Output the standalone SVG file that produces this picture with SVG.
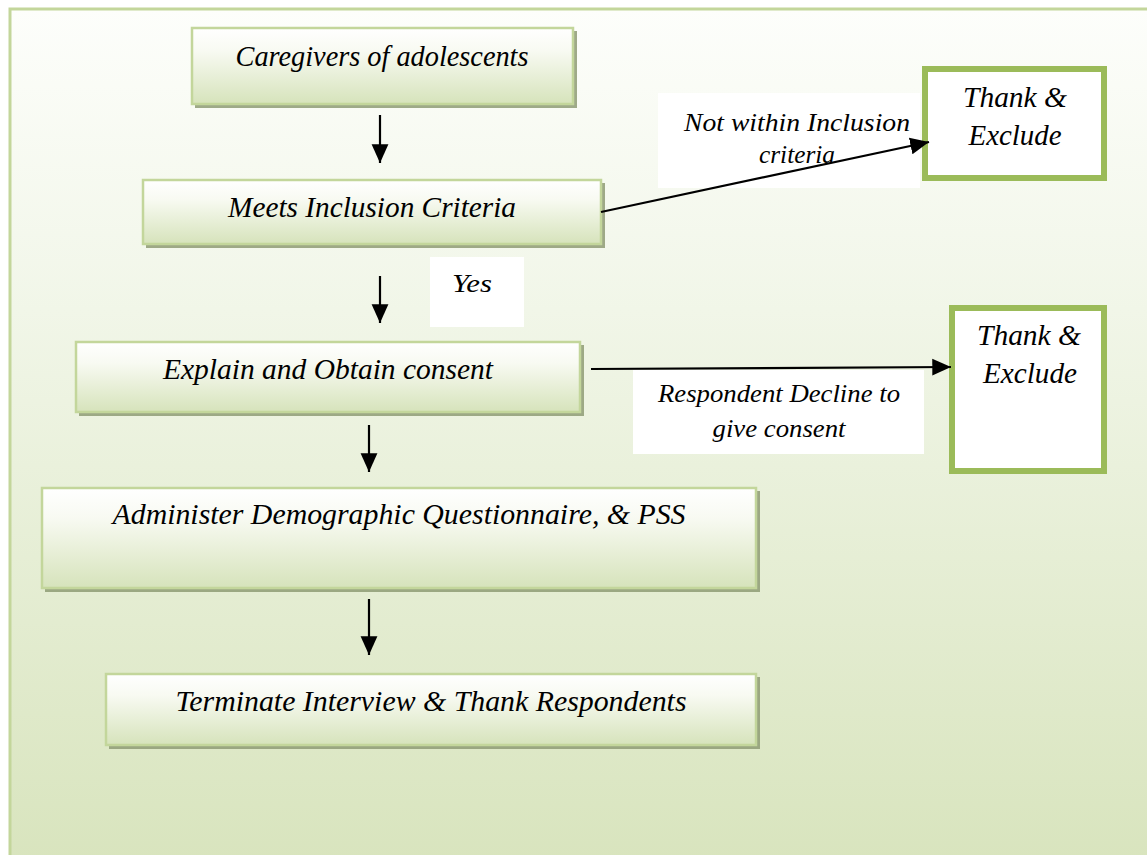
<svg xmlns="http://www.w3.org/2000/svg" width="1147" height="855" viewBox="0 0 1147 855">
<defs>
<linearGradient id="bg" x1="0" y1="0" x2="0" y2="1">
<stop offset="0" stop-color="#fdfefb"/>
<stop offset="0.35" stop-color="#f1f6e8"/>
<stop offset="1" stop-color="#d8e4bd"/>
</linearGradient>
<linearGradient id="box" x1="0" y1="0" x2="0" y2="1">
<stop offset="0" stop-color="#ffffff"/>
<stop offset="0.3" stop-color="#f8faf2"/>
<stop offset="1" stop-color="#d6e3bb"/>
</linearGradient>
<marker id="ah2" viewBox="0 0 10 10" refX="10" refY="5" markerWidth="8.5" markerHeight="8.5" orient="auto">
<path d="M0,0.5 L10,5 L0,9.5 z" fill="#000"/>
</marker>
</defs>
<style>
.t{font-family:"Liberation Serif","Times New Roman",serif;font-style:italic;fill:#000;text-anchor:middle}
.big{font-size:29px}
.mid{font-size:26px}
.shadow{fill:#8e9b74;opacity:0.85}
.bx{fill:url(#box);stroke:#c3d69b;stroke-width:2.5}
.ex{fill:#fff;stroke:#9bbb59;stroke-width:6}
.conn{stroke:#000;stroke-width:2.2;fill:none}
.lbg{fill:#fff}
</style>
<rect x="10" y="9" width="1150" height="860" fill="url(#bg)" stroke="#c3d69b" stroke-width="3"/>

<g id="labels-bg">
<rect class="lbg" x="658" y="93" width="262" height="95"/>
<rect class="lbg" x="633" y="370" width="291" height="84"/>
<rect class="lbg" x="430" y="257" width="94" height="70"/>
</g>

<g id="n1">
<rect class="shadow" x="195" y="31" width="382" height="77"/>
<rect class="bx" x="192" y="28" width="381" height="76"/>
<text class="t big" x="382" y="66" textLength="293" lengthAdjust="spacingAndGlyphs">Caregivers of adolescents</text>
</g>
<g id="n2">
<rect class="shadow" x="146" y="183" width="459" height="65"/>
<rect class="bx" x="143" y="180" width="458" height="64"/>
<text class="t big" x="372" y="217" textLength="288" lengthAdjust="spacingAndGlyphs">Meets Inclusion Criteria</text>
</g>
<g id="n3">
<rect class="shadow" x="79" y="345" width="505" height="71"/>
<rect class="bx" x="76" y="342" width="504" height="70"/>
<text class="t big" x="328" y="379" textLength="330" lengthAdjust="spacingAndGlyphs">Explain and Obtain consent</text>
</g>
<g id="n4">
<rect class="shadow" x="45" y="491" width="715" height="101"/>
<rect class="bx" x="42" y="488" width="714" height="100"/>
<text class="t big" x="399" y="524" textLength="573" lengthAdjust="spacingAndGlyphs">Administer Demographic Questionnaire, &amp; PSS</text>
</g>
<g id="n5">
<rect class="shadow" x="109" y="677" width="651" height="72"/>
<rect class="bx" x="106" y="674" width="650" height="71"/>
<text class="t big" x="431" y="711" textLength="511" lengthAdjust="spacingAndGlyphs">Terminate Interview &amp; Thank Respondents</text>
</g>
<g id="ex1">
<rect class="ex" x="925" y="69" width="179" height="109"/>
<text class="t big" x="1015" y="107" textLength="104" lengthAdjust="spacingAndGlyphs">Thank &amp;</text>
<text class="t big" x="1015" y="145" textLength="93" lengthAdjust="spacingAndGlyphs">Exclude</text>
</g>
<g id="ex2">
<rect class="ex" x="952" y="308" width="152" height="163"/>
<text class="t big" x="1029" y="345" textLength="104" lengthAdjust="spacingAndGlyphs">Thank &amp;</text>
<text class="t big" x="1030" y="383" textLength="94" lengthAdjust="spacingAndGlyphs">Exclude</text>
</g>

<g id="connectors">
<line class="conn" x1="380" y1="115" x2="380" y2="163" marker-end="url(#ah2)"/>
<line class="conn" x1="380" y1="276" x2="380" y2="323" marker-end="url(#ah2)"/>
<line class="conn" x1="369" y1="425" x2="369" y2="472" marker-end="url(#ah2)"/>
<line class="conn" x1="369" y1="599" x2="369" y2="655" marker-end="url(#ah2)"/>
<line class="conn" x1="601" y1="212" x2="929" y2="142" marker-end="url(#ah2)"/>
<line class="conn" x1="591" y1="369" x2="951" y2="367" marker-end="url(#ah2)"/>
</g>

<g id="connector-labels">
<text class="t mid" x="797" y="131" textLength="226" lengthAdjust="spacingAndGlyphs">Not within Inclusion</text>
<text class="t mid" x="797" y="163" textLength="76" lengthAdjust="spacingAndGlyphs">criteria</text>
<text class="t mid" x="779" y="402" textLength="242" lengthAdjust="spacingAndGlyphs">Respondent Decline to</text>
<text class="t mid" x="779" y="437" textLength="133" lengthAdjust="spacingAndGlyphs">give consent</text>
<text class="t mid" x="472" y="292" textLength="40" lengthAdjust="spacingAndGlyphs">Yes</text>
</g>
</svg>
